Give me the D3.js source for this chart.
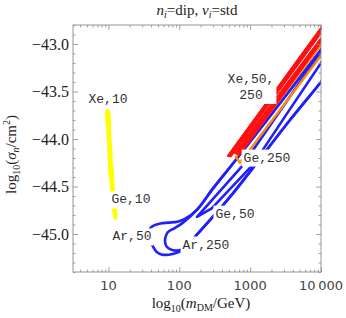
<!DOCTYPE html>
<html>
<head>
<meta charset="utf-8">
<script src="https://cdn.jsdelivr.net/npm/d3@7"></script>
<style>
  body { margin: 0; background: #fff; }
  svg text { fill: #222; }
</style>
</head>
<body>
<div id="chart"></div>
<script>
// contour points: [m_DM in GeV, log10(sigma_n / cm^2)]
const xe10 = [[9.39,-43.705],[10.03,-43.705],[10.52,-43.95],[10.87,-44.12],[11.23,-44.33],[11.59,-44.55],
  [11.41,-44.60],[10.87,-44.45],[10.35,-44.27],[9.95,-44.05],[9.70,-43.90]];
const ge10 = [[10.35,-44.28],[11.0,-44.25],[11.6,-44.45],[12.2,-44.65],[12.8,-44.80],[12.6,-44.84],
  [12.0,-44.80],[11.4,-44.62],[10.8,-44.45]];

const ar50 = [[12000,-42.98],[10000,-43.06],[2000,-43.74],[584,-44.25],[300,-44.52],[180,-44.74],[120,-44.84],
  [94,-44.87],[70,-44.88],[54,-44.89],[44,-44.91],[39,-44.94],[37.5,-44.98],[38,-45.03],[40,-45.09],[44,-45.15],
  [48,-45.19],[56,-45.215],[66,-45.22],[80,-45.21],[102,-45.186],[130,-45.12],[167,-45.03],[520,-44.61],
  [3650,-43.80],[10000,-43.40],[12000,-43.32]];
const ar250 = [[12000,-42.98],[10000,-43.06],[2000,-43.74],[584,-44.25],[300,-44.52],[180,-44.74],[113,-44.88],
  [85,-44.94],[69,-44.98],[64,-45.03],[63,-45.08],[66,-45.13],[74,-45.16],[90,-45.175],[110,-45.16],[140,-45.10],
  [167,-45.03],[520,-44.61],[3650,-43.80],[10000,-43.40],[12000,-43.32]];
const ge50 = [[12000,-43.00],[10000,-43.08],[760,-44.29],[178,-44.82],[287,-44.73],[1096,-44.27],[3000,-43.78],
  [10000,-43.20],[12000,-43.12]];
const ge250 = [[12000,-42.93],[10000,-43.01],[2000,-43.70],[631,-44.19],[719,-44.25],[3000,-43.64],
  [10000,-43.12],[12000,-43.04]];
const xe50 = [[12000,-42.74],[10000,-42.82],[471,-44.18],[537,-44.19],[10000,-42.895],[12000,-42.82]];
const xe250 = [[12000,-42.85],[10000,-42.93],[592,-44.15],[719,-44.17],[10000,-42.99],[12000,-42.91]];

const contours = [
  {name: "Ar,50", pts: ar50, color: "#1f1fff", fill: "none", smooth: true, sw: 2.6},
  {name: "Ar,250", pts: ar250, color: "#1f1fff", fill: "none", smooth: true, sw: 2.6},
  {name: "Ge,50", pts: ge50, color: "#1f1fff", fill: "none", smooth: false, sw: 2.6},
  {name: "Ge,250", pts: ge250, color: "#ff8a00", fill: "none", smooth: false, sw: 2.4},
  {name: "Xe,250", pts: xe250, color: "#ff1010", fill: "#ff1010", smooth: false, sw: 1},
  {name: "Xe,50", pts: xe50, color: "#ff1010", fill: "#ff1010", smooth: false, sw: 1},
  {name: "Ge,10", pts: ge10, color: "#ffff00", fill: "#ffff00", smooth: true, sw: 2.6},
  {name: "Xe,10", pts: xe10, color: "#ffff00", fill: "#ffff00", smooth: true, sw: 2.6}
];

// label text and anchor point [m, log10 sigma] (centre of first line)
const labels = [
  {lines: ["Xe,10"], at: [9.86, -43.57]},
  {lines: ["Ge,10"], at: [20.8, -44.63]},
  {lines: ["Ar,50"], at: [21.5, -45.02]},
  {lines: ["Ar,250"], at: [238, -45.105]},
  {lines: ["Ge,50"], at: [611, -44.78]},
  {lines: ["Ge,250"], at: [1730, -44.19]},
  {lines: ["Xe,50,", "250"], at: [1028, -43.36]}
];

const xTicks = [10, 100, 1000, 10000];
const xTickLabels = ["10", "100", "1000", "10\u2009000"];
const yTicks = [-45, -44.5, -44, -43.5, -43];
const yTickLabels = ["\u221245.0", "\u221244.5", "\u221244.0", "\u221243.5", "\u221243.0"];

const width = 346, height = 318;
const margin = {top: 25, right: 25, bottom: 46, left: 73};
const iw = width - margin.left - margin.right;
const ih = height - margin.top - margin.bottom;

const svg = d3.select("#chart").append("svg")
  .attr("width", width)
  .attr("height", height);

const g = svg.append("g").attr("transform", `translate(${margin.left},${margin.top})`);

const x = d3.scaleLog().domain([Math.sqrt(10), 10000]).range([0, iw]);
const y = d3.scaleLinear().domain([-45.4, -42.8]).range([ih, 0]);

svg.append("defs").append("clipPath").attr("id", "clip")
  .append("rect").attr("width", iw).attr("height", ih);

const plot = g.append("g").attr("clip-path", "url(#clip)");

const smoothLine = d3.line()
  .x(d => x(d[0]))
  .y(d => y(d[1]))
  .curve(d3.curveCatmullRomClosed.alpha(0.5));
const sharpLine = d3.line()
  .x(d => x(d[0]))
  .y(d => y(d[1]))
  .curve(d3.curveLinearClosed);

plot.selectAll(".contour")
  .data(contours)
  .enter().append("path")
  .attr("class", "contour")
  .attr("d", d => d.smooth ? smoothLine(d.pts) : sharpLine(d.pts))
  .attr("fill", d => d.fill)
  .attr("stroke", d => d.color)
  .attr("stroke-width", d => d.sw)
  .attr("stroke-linejoin", "round");

// labels with white boxes
labels.forEach(l => {
  const lg = plot.append("g").attr("transform", `translate(${x(l.at[0])},${y(l.at[1])})`);
  const t = lg.append("text")
    .attr("text-anchor", "middle")
    .style("font-family", "'Liberation Mono', 'Courier New', monospace")
    .style("font-size", "13px")
    .style("fill", "#333");
  l.lines.forEach((s, i) => {
    t.append("tspan").attr("x", 0).attr("dy", i === 0 ? "0.35em" : "1.25em").text(s);
  });
  const bb = t.node().getBBox();
  lg.insert("rect", "text")
    .attr("x", bb.x - 2).attr("y", bb.y - 1)
    .attr("width", bb.width + 4).attr("height", bb.height + 2)
    .attr("fill", "#fff");
});

// frame + ticks
const frameColor = "#8a8a8a";
function styleAxis(sel) {
  sel.select(".domain").remove();
  sel.selectAll("line").attr("stroke", frameColor).attr("stroke-width", 0.8);
}

const xMinor = x.ticks().filter(v => xTicks.indexOf(v) < 0);
const yMinor = y.ticks(26).filter(v => yTicks.every(t => Math.abs(t - v) > 1e-6));

[[d3.axisBottom, ih], [d3.axisTop, 0]].forEach(([ax, pos]) => {
  g.append("g").attr("transform", `translate(0,${pos})`)
    .call(ax(x).tickValues(xMinor).tickSize(-2.5).tickFormat(""))
    .call(styleAxis);
  g.append("g").attr("transform", `translate(0,${pos})`)
    .call(ax(x).tickValues(xTicks).tickSize(-5).tickFormat(""))
    .call(styleAxis);
});
[[d3.axisLeft, 0], [d3.axisRight, iw]].forEach(([ax, pos]) => {
  g.append("g").attr("transform", `translate(${pos},0)`)
    .call(ax(y).tickValues(yMinor).tickSize(-2.5).tickFormat(""))
    .call(styleAxis);
  g.append("g").attr("transform", `translate(${pos},0)`)
    .call(ax(y).tickValues(yTicks).tickSize(-5).tickFormat(""))
    .call(styleAxis);
});

g.append("rect")
  .attr("width", iw).attr("height", ih)
  .attr("fill", "none").attr("stroke", frameColor).attr("stroke-width", 0.9);

// tick labels
g.selectAll(".xlab")
  .data(xTicks)
  .enter().append("text")
  .attr("class", "xlab")
  .attr("x", d => x(d))
  .attr("y", ih + 18)
  .attr("text-anchor", "middle")
  .style("font-family", "'DejaVu Sans', sans-serif")
  .style("font-size", "13px")
  .style("fill", "#444")
  .text((d, i) => xTickLabels[i]);

g.selectAll(".ylab")
  .data(yTicks)
  .enter().append("text")
  .attr("class", "ylab")
  .attr("x", -4)
  .attr("y", d => y(d))
  .attr("dy", "0.35em")
  .attr("text-anchor", "end")
  .style("font-family", "'Liberation Serif', 'Times New Roman', serif")
  .style("font-size", "16px")
  .text((d, i) => yTickLabels[i]);

const serif = "'Liberation Serif', 'Times New Roman', serif";

// title
const title = svg.append("text")
  .attr("x", margin.left + iw / 2)
  .attr("y", 15)
  .attr("text-anchor", "middle")
  .style("font-family", serif)
  .style("font-size", "15px");
title.append("tspan").style("font-style", "italic").text("n");
title.append("tspan").style("font-style", "italic").style("font-size", "10px").attr("dy", 3).text("i");
title.append("tspan").attr("dy", -3).text("=dip, ");
title.append("tspan").style("font-style", "italic").text("\u03bd");
title.append("tspan").style("font-style", "italic").style("font-size", "10px").attr("dy", 3).text("i");
title.append("tspan").attr("dy", -3).text("=std");

// x axis label
const xl = svg.append("text")
  .attr("x", margin.left + iw / 2 + 4)
  .attr("y", 308)
  .attr("text-anchor", "middle")
  .style("font-family", serif)
  .style("font-size", "15px");
xl.append("tspan").text("log");
xl.append("tspan").style("font-size", "10px").attr("dy", 4).text("10");
xl.append("tspan").attr("dy", -4).text("(");
xl.append("tspan").style("font-style", "italic").text("m");
xl.append("tspan").style("font-size", "10px").attr("dy", 3).text("DM");
xl.append("tspan").attr("dy", -3).text("/GeV)");

// y axis label
const yl = svg.append("text")
  .attr("transform", `translate(16,${margin.top + ih / 2 + 6}) rotate(-90)`)
  .attr("text-anchor", "middle")
  .style("font-family", serif)
  .style("font-size", "15px");
yl.append("tspan").text("log");
yl.append("tspan").style("font-size", "10px").attr("dy", 4).text("10");
yl.append("tspan").attr("dy", -4).text("(");
yl.append("tspan").style("font-style", "italic").text("\u03c3");
yl.append("tspan").style("font-style", "italic").style("font-size", "10px").attr("dy", 3).text("n");
yl.append("tspan").attr("dy", -3).text("/cm");
yl.append("tspan").style("font-size", "10px").attr("dy", -6).text("2");
yl.append("tspan").attr("dy", 6).text(")");
</script>
</body>
</html>
